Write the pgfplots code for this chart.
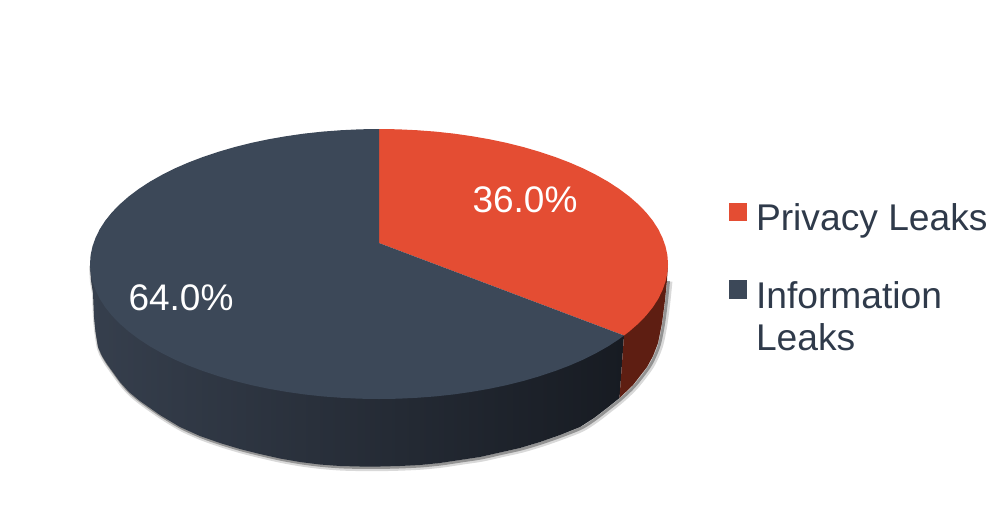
\documentclass[border=0pt]{standalone}
\usepackage{pgfplots}
\pgfplotsset{compat=1.18}
\usepackage{pgfplotstable}
\usepackage{fontspec}
\setmainfont{Liberation Sans}
\definecolor{redtop}{HTML}{E44D33}
\definecolor{darktop}{HTML}{3C4858}
\definecolor{redwall}{HTML}{5E1E12}
\definecolor{wallL}{HTML}{363F4D}
\definecolor{wallM}{HTML}{23272F}
\definecolor{wallR}{HTML}{171B22}
\definecolor{legtext}{HTML}{2F3A4A}
\pgfplotstableread{
x y
90 264
91 280
93 293
94 317
95.5 332
98 347
102 356
107 364
120 382
129 392
140 401
160 415
180 427
200 436
220 443
240 449
260 454
280 458.5
300 462
320 464.5
340 466
360 466.5
380 466.5
400 466
420 465
440 463
460 460
480 457
500 452.5
520 448
540 442
560 435
580 427
594 418
607 408
619.5 398
633 385
647 367
653 356
658 343
662 323
665 300
667 280
}\outline
\pgfplotstableread{
x y
90 264
91 280
93 293
94 317
95.5 332
98 347
102 356
107 364
120 382
129 392
140 401
160 415
180 427
200 436
220 443
240 449
260 454
280 458.5
300 462
320 464.5
340 466
360 466.5
380 466.5
400 466
420 465
440 463
460 460
480 457
500 452.5
520 448
540 442
560 435
580 427
594 418
607 408
619.5 398
624 335.5
}\darkwall
\pgfplotstableread{
x y
624 335.5
668 264
667 280
665 300
662 323
658 343
653 356
647 367
633 385
619.5 398
}\redwalltab
\pgfplotstableread{
x y
379 243
379 129
397.9 129.3
416.7 130.2
435.4 131.6
453.8 133.6
471.9 136.2
489.6 139.3
506.8 142.9
523.5 147.1
539.6 151.8
554.9 156.9
569.6 162.5
583.4 168.5
596.3 175
608.3 181.8
619.3 189
629.3 196.5
638.2 204.3
646 212.3
652.7 220.6
658.2 229.1
662.4 237.7
665.5 246.4
667.4 255.2
668 264
667.4 272.8
665.5 281.6
662.4 290.3
658.2 298.9
652.7 307.4
646 315.7
638.2 323.7
629.3 331.5
624 335.5
}\redtoptab
\pgfplotstableread{
x y
379 243
624 335.5
619.3 339
608.3 346.2
596.3 353
583.4 359.5
569.6 365.5
554.9 371.1
539.6 376.2
523.5 380.9
506.8 385.1
489.6 388.7
471.9 391.8
453.8 394.4
435.4 396.4
416.7 397.8
397.9 398.7
379 399
360.1 398.7
341.3 397.8
322.6 396.4
304.2 394.4
286.1 391.8
268.4 388.7
251.2 385.1
234.5 380.9
218.4 376.2
203.1 371.1
188.4 365.5
174.6 359.5
161.7 353
149.7 346.2
138.7 339
128.7 331.5
119.8 323.7
112 315.7
105.3 307.4
99.8 298.9
95.6 290.3
92.5 281.6
90.6 272.8
90 264
90.6 255.2
92.5 246.4
95.6 237.7
99.8 229.1
105.3 220.6
112 212.3
119.8 204.3
128.7 196.5
138.7 189
149.7 181.8
161.7 175
174.6 168.5
188.4 162.5
203.1 156.9
218.4 151.8
234.5 147.1
251.2 142.9
268.4 139.3
286.1 136.2
304.2 133.6
322.6 131.6
341.3 130.2
360.1 129.3
379 129
}\darktoptab
\begin{document}
\begin{tikzpicture}
\useasboundingbox (0pt,0pt) rectangle (500pt,257.5pt);
\begin{axis}[
  at={(0pt,0pt)}, anchor=south west,
  scale only axis, width=500pt, height=257.5pt,
  xmin=0, xmax=1000, ymin=0, ymax=515, y dir=reverse,
  hide axis, clip=false,
  legend cell align=left,
  legend style={at={(axis cs:729,203)}, anchor=north west, draw=none, fill=none,
    font=\fontsize{18.6}{21}\selectfont, text=legtext,
    row sep=23.5pt, inner sep=0pt, outer sep=0pt,
    nodes={inner sep=0pt, outer sep=0pt}},
]
\addplot[forget plot, smooth, draw=black, opacity=0.15, line width=3.2pt, xshift=1.1pt, yshift=-0.7pt] table {\outline};
\addplot[forget plot, smooth, draw=black, opacity=0.32, line width=1.4pt, xshift=0.8pt, yshift=-0.5pt] table {\outline};
\addplot[forget plot, draw=none, left color=wallL, middle color=wallM, right color=wallR] table {\darkwall};
\addplot[forget plot, draw=none, fill=redwall] table {\redwalltab};
\addplot[draw=none, fill=redtop,
  legend image code/.code={\fill[redtop] (0pt,-1.5pt) rectangle (9.2pt,7.7pt);\path (13.5pt,0pt);}]
  table {\redtoptab};
\addlegendentry{Privacy Leaks}
\addplot[draw=none, fill=darktop,
  legend image code/.code={\fill[darktop] (0pt,9.5pt) rectangle (9.2pt,18.7pt);\path (13.5pt,0pt);}]
  table {\darktoptab};
\addlegendentry[align=left]{Information\\Leaks}
\node[anchor=base, text=white, font=\fontsize{18.5}{22}\selectfont] at (axis cs:525,212) {36.0\%};
\node[anchor=base, text=white, font=\fontsize{18.5}{22}\selectfont] at (axis cs:181,310) {64.0\%};
\end{axis}
\end{tikzpicture}
\end{document}
